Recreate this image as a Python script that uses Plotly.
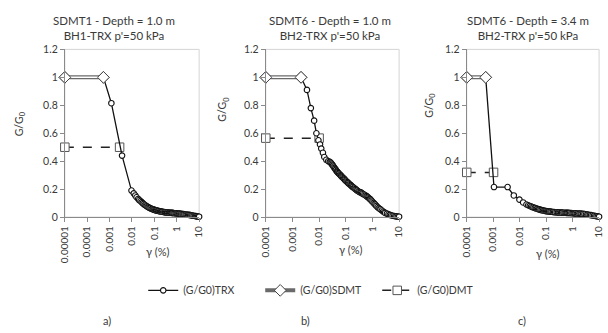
import plotly.graph_objects as go

W, H = 608, 333

# ---------------- data ----------------
panel_titles = ["SDMT1 - Depth = 1.0 m<br>BH1-TRX p'=50 kPa",
                "SDMT6 - Depth = 1.0 m<br>BH2-TRX p'=50 kPa",
                "SDMT6 - Depth = 3.4 m<br>BH2-TRX p'=50 kPa"]
panel_labels = ["a)", "b)", "c)"]

# Panel a
a_trx_x = [0.00053, 0.0012, 0.0036, 0.0095, 0.012, 0.014, 0.016, 0.019, 0.021, 0.024,
           0.027, 0.03, 0.033, 0.037, 0.041, 0.045, 0.05, 0.055, 0.061, 0.068,
           0.076, 0.085, 0.093, 0.1, 0.11, 0.12, 0.13, 0.145, 0.16, 0.18,
           0.2, 0.22, 0.25, 0.28, 0.3, 0.33, 0.37, 0.4, 0.45, 0.5,
           0.55, 0.6, 0.65, 0.72, 0.8, 0.9, 1.0, 1.1, 1.2, 1.3,
           1.45, 1.6, 1.8, 2.0, 2.2, 2.5, 2.8, 3.2, 3.6, 4.0,
           4.5, 5.0, 5.7, 6.5, 7.2, 8.0, 9.0, 10.0]
a_trx_y = [1.0, 0.815, 0.44, 0.19, 0.17, 0.155, 0.142, 0.13, 0.122, 0.115,
           0.107, 0.1, 0.094, 0.088, 0.083, 0.078, 0.074, 0.07, 0.066, 0.063,
           0.059, 0.056, 0.054, 0.052, 0.05, 0.048, 0.047, 0.045, 0.043, 0.041,
           0.04, 0.039, 0.037, 0.036, 0.035, 0.034, 0.033, 0.033, 0.032, 0.031,
           0.031, 0.03, 0.03, 0.029, 0.028, 0.028, 0.027, 0.026, 0.026, 0.025,
           0.024, 0.023, 0.022, 0.021, 0.02, 0.019, 0.018, 0.017, 0.016, 0.014,
           0.013, 0.011, 0.01, 0.008, 0.007, 0.005, 0.004, 0.003]
a_sdmt_x = [0.00001, 0.00053]
a_sdmt_y = [1.0, 1.0]
a_dmt_x = [0.00001, 0.0028]
a_dmt_y = [0.5, 0.5]

# Panel b
b_trx_x = [0.0021, 0.0035, 0.0049, 0.0065, 0.0079, 0.0094, 0.0108, 0.012, 0.0139, 0.0156,
           0.0186, 0.022, 0.025, 0.027, 0.029, 0.031, 0.033, 0.035, 0.0375, 0.04,
           0.0425, 0.045, 0.0475, 0.05, 0.053, 0.056, 0.06, 0.063, 0.067, 0.07,
           0.075, 0.08, 0.085, 0.09, 0.095, 0.1, 0.107, 0.115, 0.122, 0.13,
           0.14, 0.15, 0.16, 0.17, 0.185, 0.2, 0.215, 0.23, 0.25, 0.27,
           0.295, 0.32, 0.35, 0.38, 0.41, 0.45, 0.5, 0.55, 0.6, 0.65,
           0.7, 0.75, 0.8, 0.85, 0.92, 1.0, 1.1, 1.2, 1.3, 1.4,
           1.55, 1.7, 1.85, 2.0, 2.25, 2.5, 2.75, 3.0, 3.5, 4.0,
           4.5, 5.0, 5.7, 6.5, 7.2, 8.0, 9.0, 10.0]
b_trx_y = [1.0, 0.91, 0.78, 0.69, 0.60, 0.55, 0.52, 0.49, 0.46, 0.43,
           0.41, 0.40, 0.395, 0.39, 0.383, 0.375, 0.368, 0.36, 0.352, 0.345,
           0.338, 0.33, 0.325, 0.32, 0.315, 0.31, 0.305, 0.30, 0.295, 0.29,
           0.285, 0.28, 0.275, 0.27, 0.265, 0.26, 0.255, 0.25, 0.245, 0.24,
           0.235, 0.23, 0.225, 0.22, 0.215, 0.21, 0.205, 0.20, 0.195, 0.19,
           0.185, 0.18, 0.177, 0.175, 0.17, 0.165, 0.16, 0.155, 0.15, 0.145,
           0.14, 0.135, 0.13, 0.125, 0.118, 0.11, 0.102, 0.095, 0.088, 0.08,
           0.072, 0.065, 0.06, 0.055, 0.047, 0.04, 0.035, 0.03, 0.025, 0.02,
           0.016, 0.013, 0.01, 0.008, 0.006, 0.005, 0.004, 0.003]
b_sdmt_x = [0.0001, 0.0021]
b_sdmt_y = [1.0, 1.0]
b_dmt_x = [0.0001, 0.0100]
b_dmt_y = [0.565, 0.565]

# Panel c
c_trx_x = [0.00052, 0.00107, 0.0035, 0.006, 0.0098, 0.0135, 0.018,
           0.021, 0.024, 0.027, 0.03, 0.033, 0.037, 0.041, 0.045, 0.05, 0.055,
           0.061, 0.068, 0.076, 0.085, 0.093, 0.1, 0.11, 0.12, 0.13, 0.145,
           0.16, 0.18, 0.2, 0.22, 0.25, 0.28, 0.3, 0.33, 0.37, 0.4,
           0.45, 0.5, 0.55, 0.6, 0.65, 0.72, 0.8, 0.9, 1.0, 1.1,
           1.2, 1.3, 1.45, 1.6, 1.8, 2.0, 2.2, 2.5, 2.8, 3.2,
           3.6, 4.0, 4.5, 5.0, 5.7, 6.5, 7.2, 8.0, 9.0, 10.0]
c_trx_y = [1.0, 0.215, 0.215, 0.155, 0.125, 0.105, 0.09,
           0.085, 0.08, 0.076, 0.072, 0.069, 0.066, 0.063, 0.06, 0.057, 0.055,
           0.052, 0.05, 0.048, 0.046, 0.044, 0.043, 0.042, 0.041, 0.04, 0.039,
           0.038, 0.037, 0.036, 0.035, 0.034, 0.034, 0.033, 0.033, 0.032, 0.032,
           0.031, 0.031, 0.031, 0.030, 0.030, 0.030, 0.029, 0.029, 0.028, 0.028,
           0.027, 0.027, 0.026, 0.026, 0.025, 0.025, 0.024, 0.023, 0.022, 0.020,
           0.018, 0.017, 0.015, 0.014, 0.012, 0.010, 0.008, 0.006, 0.005, 0.003]
c_sdmt_x = [0.0001, 0.00052]
c_sdmt_y = [1.0, 1.0]
c_dmt_x = [0.0001, 0.00103]
c_dmt_y = [0.32, 0.32]

x_tickvals_a = [0.00001, 0.0001, 0.001, 0.01, 0.1, 1, 10]
x_ticktext_a = ["0.00001", "0.0001", "0.001", "0.01", "0.1", "1", "10"]
x_tickvals_bc = [0.0001, 0.001, 0.01, 0.1, 1, 10]
x_ticktext_bc = ["0.0001", "0.001", "0.01", "0.1", "1", "10"]
y_tickvals = [0, 0.2, 0.4, 0.6, 0.8, 1.0, 1.2]
y_ticktext = ["0", "0.2", "0.4", "0.6", "0.8", "1", "1.2"]

# ---------------- layout geometry (pixels) ----------------
FONT = "Lato, 'Open Sans', sans-serif"
TXT = "#3a3a3a"
plot_px = [(59, 196), (264, 400), (469, 604)]
top_px, bot_px = 45, 219
title_cx = [109, 330, 531]
ytitle_pos = [(13, 122), (221, 107), (432, 103)]
xtitle_pos = [(154, 255), (351, 253), (552, 257)]
label_pos = [(102, 326), (305, 326), (525, 326)]

def px(x):
    return x / W

def py(y):
    return 1 - y / H

panels = [
    (a_trx_x, a_trx_y, a_sdmt_x, a_sdmt_y, a_dmt_x, a_dmt_y, x_tickvals_a, x_ticktext_a, [-5, 1]),
    (b_trx_x, b_trx_y, b_sdmt_x, b_sdmt_y, b_dmt_x, b_dmt_y, x_tickvals_bc, x_ticktext_bc, [-4, 1]),
    (c_trx_x, c_trx_y, c_sdmt_x, c_sdmt_y, c_dmt_x, c_dmt_y, x_tickvals_bc, x_ticktext_bc, [-4, 1]),
]

fig = go.Figure()
annotations = []
shapes = []
layout_axes = {}

for i, (tx, ty, sx, sy, dx, dy, tv, tt, xr) in enumerate(panels):
    n = "" if i == 0 else str(i + 1)
    xa, ya = "x" + n, "y" + n
    first = (i == 0)
    # DMT
    fig.add_trace(go.Scatter(
        x=dx, y=dy, xaxis=xa, yaxis=ya, mode="lines+markers", name="(G/G0)DMT",
        line=dict(color="#222222", width=1.5, dash="dash"),
        marker=dict(symbol="square", size=8.5, color="white", line=dict(color="#555555", width=1)),
        showlegend=first, legendrank=3, legendgroup="dmt", cliponaxis=False))
    # TRX
    fig.add_trace(go.Scatter(
        x=tx, y=ty, xaxis=xa, yaxis=ya, mode="lines+markers", name="(G/G0)TRX",
        line=dict(color="#111111", width=1.3),
        marker=dict(symbol="circle", size=5.5, color="white", line=dict(color="#111111", width=1.1)),
        showlegend=first, legendrank=1, legendgroup="trx", cliponaxis=False))
    # SDMT double line
    fig.add_trace(go.Scatter(
        x=sx, y=sy, xaxis=xa, yaxis=ya, mode="lines+markers", name="(G/G0)SDMT",
        line=dict(color="#6a6a6a", width=4),
        marker=dict(symbol="diamond", size=9, color="white", line=dict(color="#444444", width=1)),
        showlegend=first, legendrank=2, legendgroup="sdmt", cliponaxis=False))
    fig.add_trace(go.Scatter(
        x=sx, y=sy, xaxis=xa, yaxis=ya, mode="lines",
        line=dict(color="white", width=1.5), showlegend=False, hoverinfo="skip",
        legendgroup="sdmt"))
    fig.add_trace(go.Scatter(
        x=sx, y=sy, xaxis=xa, yaxis=ya, mode="markers",
        marker=dict(symbol="diamond", size=9, color="white", line=dict(color="#444444", width=1)),
        showlegend=False, hoverinfo="skip", legendgroup="sdmt", cliponaxis=False))

    x0, x1 = plot_px[i]
    layout_axes["xaxis" + n] = dict(
        type="log", range=xr, domain=[px(x0), px(x1)], anchor=ya,
        tickvals=tv, ticktext=tt, tickangle=-90, ticks="outside", ticklen=4,
        tickcolor="#8a8a8a", showline=True, linecolor="#8a8a8a", linewidth=1,
        showgrid=False, zeroline=False, fixedrange=True,
        tickfont=dict(family=FONT, size=10, color=TXT))
    layout_axes["yaxis" + n] = dict(
        range=[0, 1.2], domain=[py(bot_px), py(top_px)], anchor=xa,
        tickvals=y_tickvals, ticktext=y_ticktext, ticks="outside", ticklen=4,
        tickcolor="#8a8a8a", showline=True, linecolor="#8a8a8a", linewidth=1,
        showgrid=False, zeroline=False, fixedrange=True,
        tickfont=dict(family=FONT, size=10.5, color=TXT))

    # light frame on top/right
    shapes.append(dict(type="rect", xref=xa + " domain", yref=ya + " domain",
                       x0=0, x1=1, y0=0, y1=1, line=dict(color="#d4d4d4", width=1),
                       layer="below"))

    annotations.append(dict(text=panel_titles[i], x=px(title_cx[i]), y=py(23), xref="paper",
                            yref="paper", showarrow=False, xanchor="center", yanchor="middle",
                            font=dict(family=FONT, size=11.5, color=TXT)))
    yx, yy = ytitle_pos[i]
    annotations.append(dict(text="G/G<sub>0</sub>", x=px(yx), y=py(yy), xref="paper",
                            yref="paper", showarrow=False, textangle=-90,
                            xanchor="center", yanchor="middle",
                            font=dict(family=FONT, size=10.5, color=TXT)))
    gx, gy = xtitle_pos[i]
    annotations.append(dict(text="γ (%)", x=px(gx), y=py(gy), xref="paper",
                            yref="paper", showarrow=False, xanchor="center", yanchor="middle",
                            font=dict(family=FONT, size=11, color=TXT)))
    lx, ly = label_pos[i]
    annotations.append(dict(text=panel_labels[i], x=px(lx), y=py(ly), xref="paper",
                            yref="paper", showarrow=False, xanchor="center", yanchor="middle",
                            font=dict(family=FONT, size=11, color=TXT)))

fig.update_layout(
    width=W, height=H, margin=dict(l=0, r=0, t=0, b=0),
    paper_bgcolor="white", plot_bgcolor="white",
    font=dict(family=FONT, size=10, color=TXT),
    showlegend=True,
    legend=dict(orientation="h", x=px(318), y=py(295), xanchor="center", yanchor="middle",
                font=dict(family=FONT, size=10.5, color=TXT), bgcolor="rgba(0,0,0,0)",
                entrywidth=72, entrywidthmode="pixels", tracegroupgap=0),
    annotations=annotations, shapes=shapes,
    **layout_axes)

fig.write_html("out.html")
